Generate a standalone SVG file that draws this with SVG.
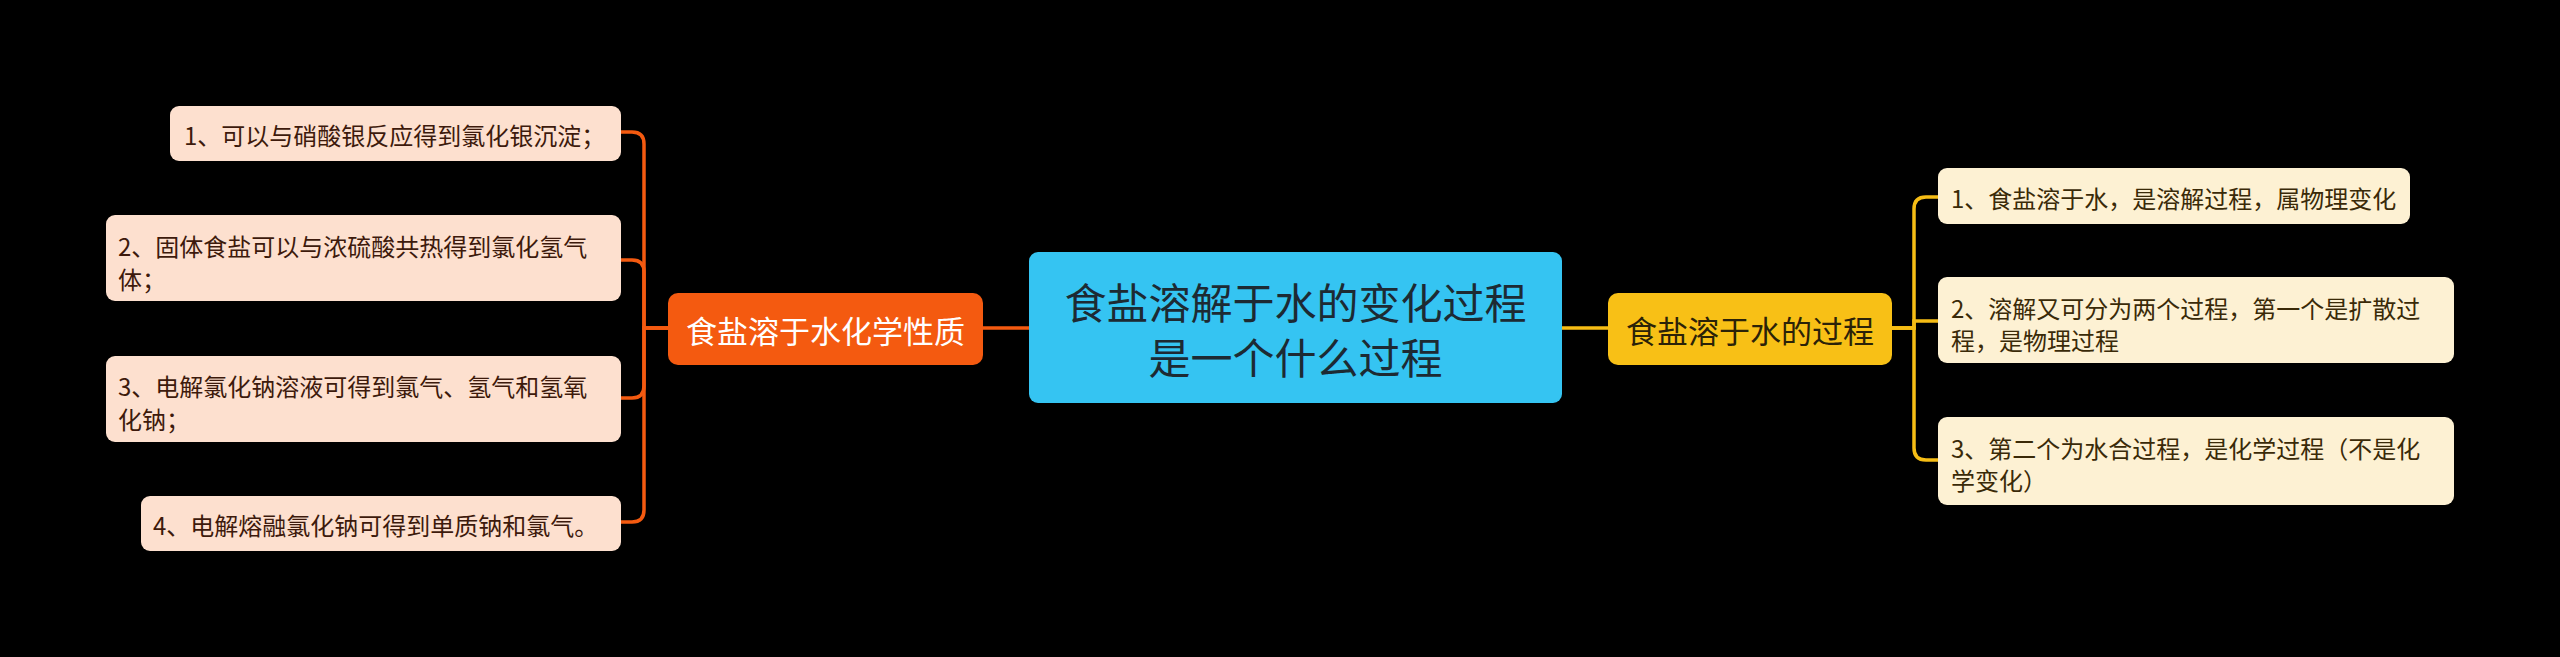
<svg xmlns="http://www.w3.org/2000/svg" width="2560" height="657" viewBox="0 0 2560 657">
<style>
text{font-family:"Noto Sans CJK SC","Noto Sans",sans-serif;dominant-baseline:central}
.cl{fill:#35c4f2}
.ct{font-size:42px;fill:#1d2a33;text-anchor:middle}
.sl{fill:#f45a10}
.slt{font-size:31px;fill:#ffffff;text-anchor:middle}
.sr{fill:#f8c016}
.srt{font-size:31px;fill:#2b2208;text-anchor:middle}
.ll{fill:#fde0cf}
.llt{font-size:24px;fill:#3d1a0c}
.lr{fill:#fdf1d3}
.lrt{font-size:24px;fill:#3a2a08}
.co{fill:none;stroke:#f45a10;stroke-width:3.5}
.cy{fill:none;stroke:#f6bd15;stroke-width:3.5}
</style>
<rect width="2560" height="657" fill="#000000"/>
<g id="connectors">
<path class="co" d="M1029 328 H983"/>
<path class="co" d="M668 328 H644 V144 Q644 132 632 132 H621"/>
<path class="co" d="M668 328 H644 V272 Q644 260 632 260 H621"/>
<path class="co" d="M668 328 H644 V386 Q644 398 632 398 H621"/>
<path class="co" d="M668 328 H644 V510 Q644 522 632 522 H621"/>
<path class="cy" d="M1562 328 H1608"/>
<path class="cy" d="M1892 328 H1914 V209 Q1914 197 1926 197 H1938"/>
<path class="cy" d="M1892 328 H1914 V321 H1938"/>
<path class="cy" d="M1892 328 H1914 V448 Q1914 460 1926 460 H1938"/>
</g>
<g id="center">
<rect class="cl" x="1029" y="252" width="533" height="151" rx="9"/>
<text class="ct" x="1295.5" y="300">食盐溶解于水的变化过程</text>
<text class="ct" x="1295.5" y="355">是一个什么过程</text>
</g>
<g id="left-topic">
<rect class="sl" x="668" y="293" width="315" height="72" rx="10"/>
<text class="slt" x="825.5" y="329">食盐溶于水化学性质</text>
</g>
<g id="left-leaf-1">
<rect class="ll" x="170" y="106" width="451" height="55" rx="9"/>
<text class="llt" x="184" y="134">1、可以与硝酸银反应得到氯化银沉淀；</text>
</g>
<g id="left-leaf-2">
<rect class="ll" x="106" y="215" width="515" height="86" rx="9"/>
<text class="llt" x="118" y="245">2、固体食盐可以与浓硫酸共热得到氯化氢气</text>
<text class="llt" x="118" y="278">体；</text>
</g>
<g id="left-leaf-3">
<rect class="ll" x="106" y="356" width="515" height="86" rx="9"/>
<text class="llt" x="118" y="385">3、电解氯化钠溶液可得到氯气、氢气和氢氧</text>
<text class="llt" x="118" y="418">化钠；</text>
</g>
<g id="left-leaf-4">
<rect class="ll" x="141" y="496" width="480" height="55" rx="9"/>
<text class="llt" x="153" y="524">4、电解熔融氯化钠可得到单质钠和氯气。</text>
</g>
<g id="right-topic">
<rect class="sr" x="1608" y="293" width="284" height="72" rx="10"/>
<text class="srt" x="1750" y="329">食盐溶于水的过程</text>
</g>
<g id="right-leaf-1">
<rect class="lr" x="1938" y="168" width="472" height="56" rx="9"/>
<text class="lrt" x="1951" y="197">1、食盐溶于水，是溶解过程，属物理变化</text>
</g>
<g id="right-leaf-2">
<rect class="lr" x="1938" y="277" width="516" height="86" rx="9"/>
<text class="lrt" x="1951" y="307">2、溶解又可分为两个过程，第一个是扩散过</text>
<text class="lrt" x="1951" y="339">程，是物理过程</text>
</g>
<g id="right-leaf-3">
<rect class="lr" x="1938" y="417" width="516" height="88" rx="9"/>
<text class="lrt" x="1951" y="447">3、第二个为水合过程，是化学过程（不是化</text>
<text class="lrt" x="1951" y="479">学变化）</text>
</g>
</svg>
